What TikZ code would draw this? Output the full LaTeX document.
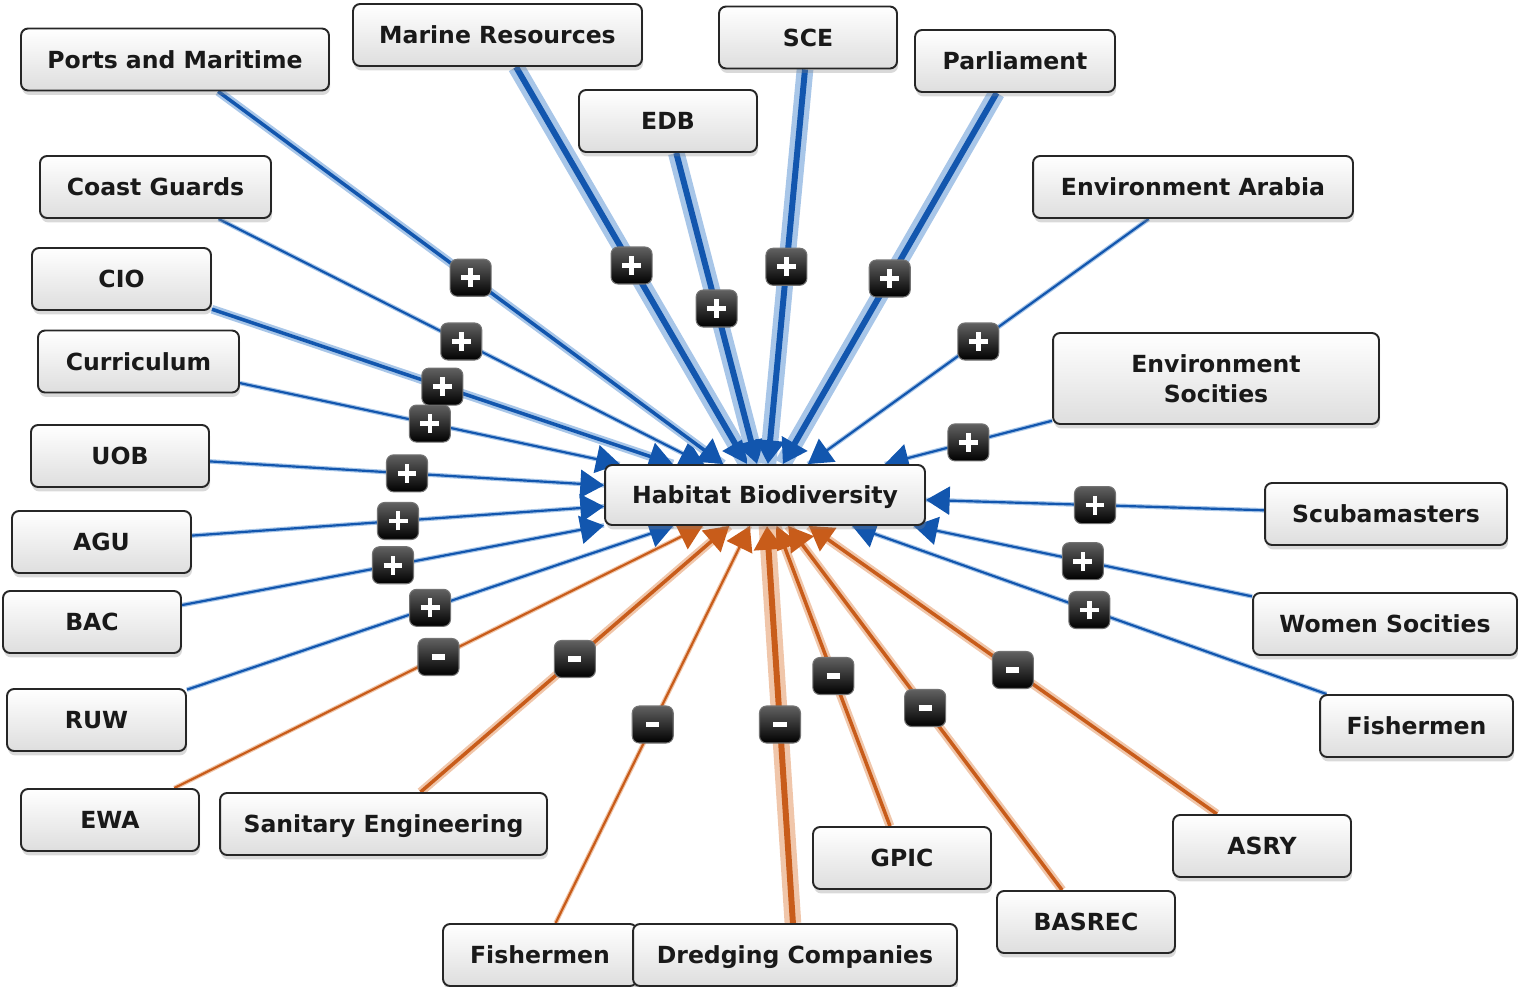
\documentclass[tikz,border=0pt]{standalone}
\usepackage{fontspec}
\setmainfont{DejaVu Sans}
\usetikzlibrary{arrows.meta,shadows}
\definecolor{plusblue}{RGB}{18,86,174}
\definecolor{plushalo}{RGB}{168,198,232}
\definecolor{minusorange}{RGB}{200,92,26}
\definecolor{minushalo}{RGB}{240,198,170}
\newcommand{\bplus}{\makebox[0pt]{\rule[-5.4pt]{2.7pt}{10.8pt}}\makebox[0pt]{\rule[-1.35pt]{10.8pt}{2.7pt}}}
\newcommand{\bminus}{\makebox[0pt]{\rule[-1.5pt]{7.5pt}{3pt}}}

\begin{document}
\begin{tikzpicture}[x=0.02cm, y=-0.02cm]
        \pgfdeclarelayer{edgelayer}
        \pgfsetlayers{edgelayer,main}
        \tikzstyle{box}=[draw=black!85, line width=1.1pt, rounded corners=4pt, top color=white, bottom color=black!13, drop shadow={opacity=0.3, shadow xshift=0.6pt, shadow yshift=-2.5pt}, minimum height=1.24cm, font=\bfseries\fontsize{13.4}{17}\selectfont, text=black!90, text height=9.8pt, text depth=0pt]
        \tikzstyle{badge}=[rounded corners=4pt, draw=black!55, line width=0.6pt, top color=black!62, bottom color=black, minimum width=0.82cm, minimum height=0.74cm, inner sep=0pt, text=white]
        \tikzstyle{tip}=[-{Triangle[length=13.5pt, width=16pt]}]
        \tikzstyle{plus thin}=[tip, draw=plusblue, line width=1.25pt, preaction={draw=plushalo, line width=2.6pt, -}]
        \tikzstyle{plus mid}=[tip, draw=plusblue, line width=2pt, preaction={draw=plushalo, line width=5pt, -}]
        \tikzstyle{plus thick}=[tip, draw=plusblue, line width=3.4pt, preaction={draw=plushalo, line width=9.5pt, -}]
        \tikzstyle{minus thin}=[tip, draw=minusorange, line width=1.25pt, preaction={draw=minushalo, line width=2.6pt, -}]
        \tikzstyle{minus mid}=[tip, draw=minusorange, line width=2pt, preaction={draw=minushalo, line width=5pt, -}]
        \tikzstyle{minus thick}=[tip, draw=minusorange, line width=3.4pt, preaction={draw=minushalo, line width=9.5pt, -}]
        %\tikzstyle{badge}=[fill=black, rounded corners=4pt]

        \useasboundingbox (0, 0) rectangle (1518, 987);

        \node [style=box, minimum width=6.4cm, minimum height=1.2cm] (0) at (765, 495) {Habitat Biodiversity};
        \node [style=box, minimum width=6.16cm] (1) at (175, 59.5) {Ports and Maritime};
        \node [style=box, minimum width=5.78cm] (2) at (497.5, 35) {Marine Resources};
        \node [style=box, minimum width=3.56cm] (3) at (668, 121) {EDB};
        \node [style=box, minimum width=3.56cm] (4) at (808, 37.5) {SCE};
        \node [style=box, minimum width=4cm] (5) at (1015, 61) {Parliament};
        \node [style=box, minimum width=6.4cm] (6) at (1193, 187) {Environment Arabia};
        \node [style=box, minimum width=4.62cm] (7) at (155.5, 187) {Coast Guards};
        \node [style=box, minimum width=3.58cm] (8) at (121.5, 279) {CIO};
        \node [style=box, minimum width=4.02cm] (9) at (138.5, 361.5) {Curriculum};
        \node [style=box, minimum width=6.52cm, minimum height=1.82cm, align=center, text height=26.8pt] (10) at (1216, 378.5) {Environment\\Socities};
        \node [style=box, minimum width=3.56cm] (11) at (120, 456) {UOB};
        \node [style=box, minimum width=3.58cm] (12) at (101.5, 542) {AGU};
        \node [style=box, minimum width=3.56cm] (13) at (92, 622) {BAC};
        \node [style=box, minimum width=3.58cm] (14) at (96.5, 720) {RUW};
        \node [style=box, minimum width=4.84cm] (15) at (1386, 514) {Scubamasters};
        \node [style=box, minimum width=5.28cm] (16) at (1385, 624) {Women Socities};
        \node [style=box, minimum width=3.86cm] (17) at (1416.5, 726) {Fishermen};
        \node [style=box, minimum width=3.56cm] (18) at (110, 820) {EWA};
        \node [style=box, minimum width=6.54cm] (19) at (383.5, 824) {Sanitary Engineering};
        \node [style=box, minimum width=3.88cm] (20) at (540, 955) {Fishermen};
        \node [style=box, minimum width=6.48cm] (21) at (795, 955) {Dredging Companies};
        \node [style=box, minimum width=3.56cm] (22) at (902, 858) {GPIC};
        \node [style=box, minimum width=3.56cm] (23) at (1086, 922) {BASREC};
        \node [style=box, minimum width=3.56cm] (24) at (1262, 846) {ASRY};

        \begin{pgfonlayer}{edgelayer}
            \draw [style=plus thin] (6) to node [style=badge] {\bplus} (0);
            \draw [style=plus thin] (7) to node [style=badge] {\bplus} (0);
            \draw [style=plus thin] (9) to node [style=badge] {\bplus} (0);
            \draw [style=plus thin] (10) to node [style=badge] {\bplus} (0);
            \draw [style=plus thin] (11) to node [style=badge] {\bplus} (0);
            \draw [style=plus thin] (12) to node [style=badge] {\bplus} (0);
            \draw [style=plus thin] (13) to node [style=badge] {\bplus} (0);
            \draw [style=plus thin] (14) to node [style=badge] {\bplus} (0);
            \draw [style=plus thin] (15) to node [style=badge] {\bplus} (0);
            \draw [style=plus thin] (16) to node [style=badge] {\bplus} (0);
            \draw [style=plus thin] (17) to node [style=badge] {\bplus} (0);
            \draw [style=minus thin] (18) to node [style=badge] {\bminus} (0);
            \draw [style=minus thin] (20) to node [style=badge] {\bminus} (0);
            \draw [style=plus mid] (1) to node [style=badge] {\bplus} (0);
            \draw [style=plus mid] (8) to node [style=badge] {\bplus} (0);
            \draw [style=minus mid] (19) to node [style=badge] {\bminus} (0);
            \draw [style=minus mid] (22) to node [style=badge] {\bminus} (0);
            \draw [style=minus mid] (23) to node [style=badge] {\bminus} (0);
            \draw [style=minus mid] (24) to node [style=badge] {\bminus} (0);
            \draw [style=plus thick] (2) to node [style=badge] {\bplus} (0);
            \draw [style=plus thick] (3) to node [style=badge] {\bplus} (0);
            \draw [style=plus thick] (4) to node [style=badge] {\bplus} (0);
            \draw [style=plus thick] (5) to node [style=badge] {\bplus} (0);
            \draw [style=minus thick] (21) to node [style=badge] {\bminus} (0);
        \end{pgfonlayer}
\end{tikzpicture}
\end{document}
